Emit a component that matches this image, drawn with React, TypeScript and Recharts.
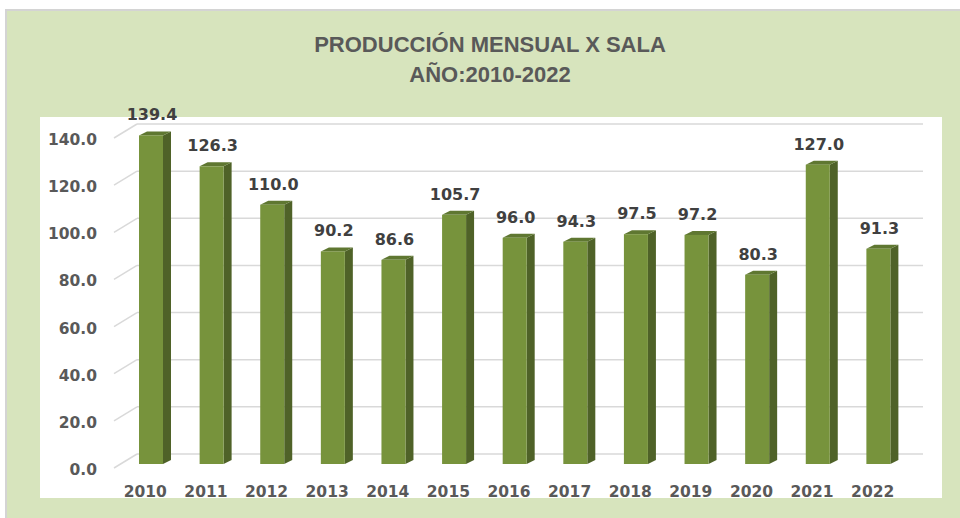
import { BarChart, Bar, XAxis, YAxis, CartesianGrid, LabelList } from 'recharts'

const years = ['2010', '2011', '2012', '2013', '2014', '2015', '2016', '2017', '2018', '2019', '2020', '2021', '2022']
const production = [139.4, 126.3, 110.0, 90.2, 86.6, 105.7, 96.0, 94.3, 97.5, 97.2, 80.3, 127.0, 91.3]
const yTicks = [0, 20, 40, 60, 80, 100, 120, 140]

const data = years.map((year, i) => ({ year, value: production[i] }))

const FONT = "'DejaVu Sans', Verdana, sans-serif"
const TEXT = '#595959'
const GRID = '#d9d9d9'
const DX = 8
const DY = 4

function Bar3D(props: any) {
  const { x, y, width, height } = props
  const b = y + height
  return (
    <g>
      <polygon
        points={`${x + width},${y} ${x + width + DX},${y - DY} ${x + width + DX},${b - DY} ${x + width},${b}`}
        fill="#4f6228"
      />
      <polygon
        points={`${x},${y} ${x + DX},${y - DY} ${x + width + DX},${y - DY} ${x + width},${y}`}
        fill="#5f7731"
      />
      <rect x={x} y={y} width={width} height={height} fill="#77933c" />
    </g>
  )
}

function GridLine(props: any) {
  const { y1, key } = props
  return (
    <g key={key}>
      <line x1={114} y1={y1 + 4} x2={137} y2={y1 - 10} stroke={GRID} strokeWidth={1.5} />
      <line x1={137} y1={y1 - 10} x2={923} y2={y1 - 10} stroke={GRID} strokeWidth={1.5} />
    </g>
  )
}

function YTick(props: any) {
  const { y, payload } = props
  return (
    <text x={97} y={y + 11} textAnchor="end" fill={TEXT} fontFamily={FONT} fontWeight="bold" fontSize={15.5}>
      {Number(payload.value).toFixed(1)}
    </text>
  )
}

function XTick(props: any) {
  const { x, payload } = props
  return (
    <text x={x - 6} y={497} textAnchor="middle" fill={TEXT} fontFamily={FONT} fontWeight="bold" fontSize={15.5}>
      {payload.value}
    </text>
  )
}

function ValueLabel(props: any) {
  const { x, y, width, value } = props
  return (
    <text x={x + width / 2 + 1} y={y - 15} textAnchor="middle" fill="#404040" fontFamily={FONT} fontWeight="bold" fontSize={16}>
      {Number(value).toFixed(1)}
    </text>
  )
}

export default function App() {
  return (
    <div style={{ position: 'fixed', left: 0, top: 0, width: 960, height: 518, background: '#fff', overflow: 'hidden' }}>
      <div
        style={{
          position: 'absolute',
          left: 5,
          top: 9,
          right: 0,
          bottom: 0,
          background: '#d7e4bd',
          borderTop: '2px solid #d4d4d4',
          borderLeft: '2px solid #d4d4d4',
        }}
      />
      <div style={{ position: 'absolute', left: 40, top: 117, width: 902, height: 381, background: '#fff' }} />
      <div
        style={{
          position: 'absolute',
          left: 0,
          top: 30,
          width: 980,
          textAlign: 'center',
          color: TEXT,
          fontFamily: "'Liberation Sans', Arial, sans-serif",
          fontWeight: 'bold',
          fontSize: 22,
          lineHeight: '30px',
        }}
      >
        <div>PRODUCCIÓN MENSUAL X SALA</div>
        <div>AÑO:2010-2022</div>
      </div>
      <div style={{ position: 'absolute', left: 0, top: 0 }}>
        <BarChart width={960} height={518} data={data} margin={{ top: 134, right: 51, left: 0, bottom: 0 }}>
          <CartesianGrid vertical={false} horizontal={GridLine} />
          <XAxis dataKey="year" height={54} axisLine={false} tickLine={false} tick={XTick} interval={0} />
          <YAxis width={121} domain={[0, 140]} ticks={yTicks} axisLine={false} tickLine={false} tick={YTick} />
          <Bar dataKey="value" barSize={24} shape={Bar3D} isAnimationActive={false}>
            <LabelList dataKey="value" content={ValueLabel} />
          </Bar>
        </BarChart>
      </div>
    </div>
  )
}
